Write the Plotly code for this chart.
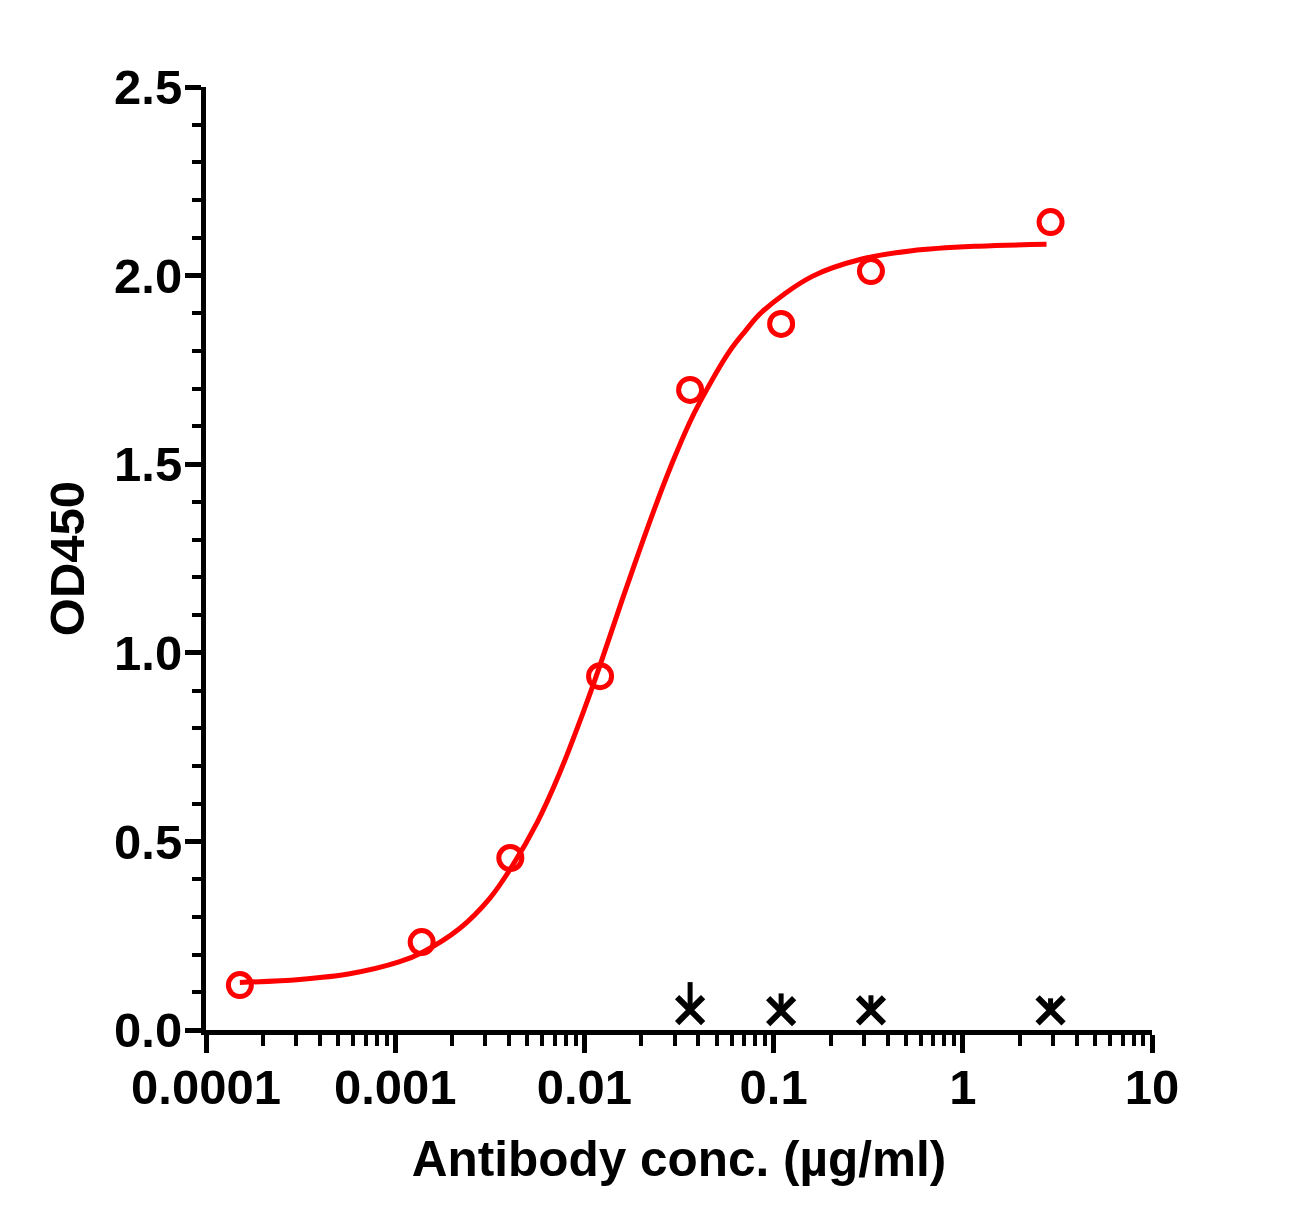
import plotly.graph_objects as go

# Measured data (antibody concentration in ug/ml, OD450)
conc = [0.000151, 0.00138, 0.00406, 0.0121, 0.0362, 0.1096, 0.327, 2.91]
od_sample = [0.119, 0.233, 0.456, 0.938, 1.697, 1.872, 2.012, 2.142]

# Negative control
conc_ctrl = [0.0362, 0.1096, 0.327, 2.91]
od_ctrl = [0.053, 0.050, 0.052, 0.052]
od_ctrl_err_up = [0.074, 0.047, 0.040, 0.032]
od_ctrl_err_down = [0, 0, 0, 0]

# Fitted curve
curve_x = [1.51e-4, 3.13e-4, 5.75e-4, 1.057e-3, 1.38e-3, 2.19e-3, 3.16e-3, 4.12e-3,
           5.65e-3, 7.38e-3, 0.0100, 0.0120, 0.0158, 0.0195, 0.0240, 0.0291, 0.0358,
           0.0405, 0.0582, 0.0708, 0.0869, 0.160, 0.293, 0.538, 1.21, 2.77]
curve_y = [0.126, 0.134, 0.149, 0.181, 0.205, 0.269, 0.349, 0.432,
           0.552, 0.680, 0.851, 0.962, 1.139, 1.270, 1.395, 1.503, 1.608,
           1.662, 1.798, 1.853, 1.904, 1.998, 2.044, 2.066, 2.078, 2.083]

x_tick_vals = [0.0001, 0.001, 0.01, 0.1, 1, 10]
x_tick_text = ["0.0001", "0.001", "0.01", "0.1", "1", "10"]

minor_x = [m * d for d in [0.0001, 0.001, 0.01, 0.1, 1] for m in range(2, 10)]

FONT = "Liberation Sans, Arial, sans-serif"

fig = go.Figure()
fig.add_trace(go.Scatter(x=curve_x, y=curve_y, mode="lines",
                         line=dict(color="#FF0000", width=5, shape="spline", smoothing=1.0),
                         hoverinfo="skip"))
fig.add_trace(go.Scatter(x=conc, y=od_sample, mode="markers",
                         marker=dict(symbol="circle-open", size=23, color="#FF0000",
                                     line=dict(width=5, color="#FF0000")),
                         cliponaxis=False))
fig.add_trace(go.Scatter(x=conc_ctrl, y=od_ctrl, mode="markers",
                         marker=dict(symbol="x-thin", size=26, color="black",
                                     line=dict(width=6, color="black")),
                         error_y=dict(type="data", array=od_ctrl_err_up,
                                      arrayminus=od_ctrl_err_down, symmetric=False,
                                      thickness=5, width=0, color="black"),
                         cliponaxis=False))

fig.update_layout(
    width=1295, height=1220,
    margin=dict(l=198, r=151, t=79, b=198),
    plot_bgcolor="white", paper_bgcolor="white",
    showlegend=False,
    font=dict(family=FONT, color="black", weight="bold"),
)

fig.update_xaxes(
    type="log", range=[-4, 1],
    tickmode="array", tickvals=x_tick_vals, ticktext=x_tick_text,
    ticks="outside", ticklen=18, tickwidth=5, tickcolor="black",
    showline=True, linewidth=5, linecolor="black",
    showgrid=False, zeroline=False,
    ticklabelstandoff=-8,
    tickfont=dict(family=FONT, size=49, color="black", weight="bold"),
    minor=dict(tickmode="array", tickvals=minor_x, ticks="outside", ticklen=11,
               tickwidth=4, tickcolor="black", showgrid=False),
    title=dict(text="Antibody conc. (µg/ml)",
               font=dict(family=FONT, size=49.5, color="black", weight="bold"),
               standoff=30),
)

fig.update_yaxes(
    range=[0, 2.5], dtick=0.5, tick0=0, tickformat=".1f",
    ticks="outside", ticklen=16, tickwidth=5, tickcolor="black",
    showline=True, linewidth=5, linecolor="black",
    showgrid=False, zeroline=False,
    ticklabelstandoff=-7,
    tickfont=dict(family=FONT, size=49, color="black", weight="bold"),
    minor=dict(dtick=0.1, ticks="outside", ticklen=9, tickwidth=4,
               tickcolor="black", showgrid=False),
    title=dict(text="OD450",
               font=dict(family=FONT, size=49, color="black", weight="bold"),
               standoff=15),
)

fig.write_html("out.html")
